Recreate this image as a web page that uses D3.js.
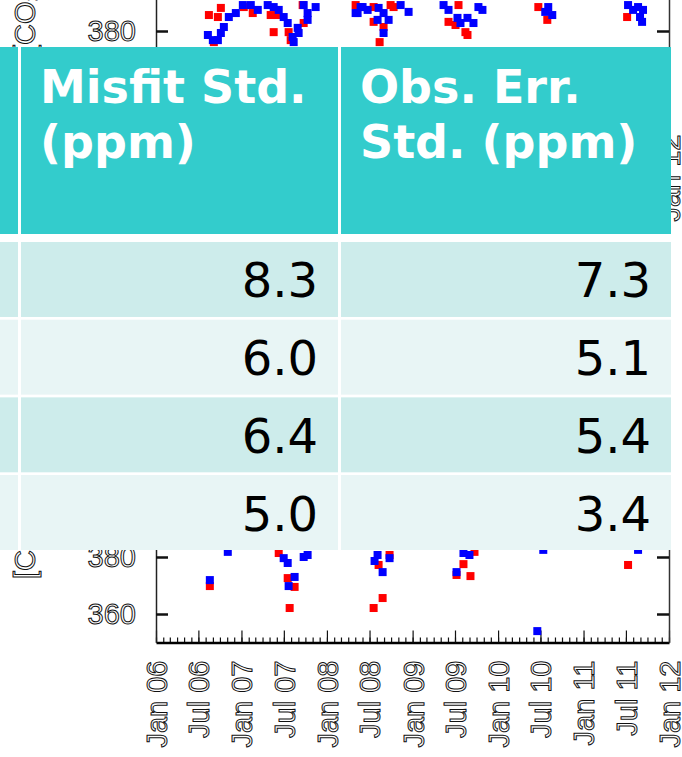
<!DOCTYPE html>
<html>
<head>
<meta charset="utf-8">
<script src="https://cdn.jsdelivr.net/npm/d3@7"></script>
<style>
  body { margin: 0; background: #fff; }
  svg { display: block; }
</style>
</head>
<body>
<svg></svg>
<script>
var width = 682, height = 757;

// table values
var headers = [["Misfit Std.", "(ppm)"], ["Obs. Err.", "Std. (ppm)"]];
var misfitStd = [8.3, 6.0, 6.4, 5.0];
var obsErrStd = [7.3, 5.1, 5.4, 3.4];

// background plot
var xTickLabels = ["Jan 06", "Jul 06", "Jan 07", "Jul 07", "Jan 08", "Jul 08", "Jan 09",
                   "Jul 09", "Jan 10", "Jul 10", "Jan 11", "Jul 11", "Jan 12"];
var yTicks = [360, 380, 400];
var yTitle = "[CO\u2082] (ppm)";

// [decimal year, ppm]
var topRed = [[2006.619, 385.6], [2006.759, 388.1], [2006.724, 384.9], [2006.677, 376.1],
  [2007.027, 388.4], [2007.132, 386.3], [2007.342, 385.6], [2007.424, 385.6], [2007.377, 379.6],
  [2007.552, 379.6], [2007.576, 376.8], [2007.716, 389.1], [2007.728, 382.8], [2008.335, 389.1],
  [2008.545, 388.4], [2008.743, 389.1], [2008.778, 388.4], [2008.545, 383.2], [2008.661, 381.4],
  [2008.615, 376.1], [2009.537, 389.1], [2009.420, 383.2], [2009.502, 382.1], [2009.618, 379.6],
  [2009.642, 378.6], [2010.471, 388.4], [2010.576, 383.9], [2011.510, 384.9]];
var topBlue = [[2006.852, 384.9], [2006.934, 386.3], [2006.794, 381.4], [2006.759, 379.3],
  [2006.607, 378.6], [2006.665, 376.8], [2006.724, 376.8], [2007.016, 389.1], [2007.109, 389.1],
  [2007.191, 387.4], [2007.307, 389.1], [2007.377, 388.4], [2007.436, 387.4], [2007.494, 384.9],
  [2007.541, 382.8], [2007.658, 381.1], [2007.669, 379.3], [2007.599, 377.9], [2007.611, 376.1],
  [2007.728, 389.1], [2007.774, 386.3], [2007.868, 388.4], [2007.774, 383.9], [2008.358, 386.3],
  [2008.416, 388.4], [2008.393, 388.4], [2008.335, 386.3], [2008.475, 387.4], [2008.603, 388.1],
  [2008.860, 389.1], [2008.953, 386.7], [2008.661, 386.3], [2008.591, 383.9], [2008.720, 383.9],
  [2008.661, 379.3], [2009.362, 389.1], [2009.420, 387.4], [2009.525, 384.6], [2009.642, 384.6],
  [2009.560, 382.8], [2009.712, 382.8], [2009.770, 388.4], [2009.817, 387.4], [2010.587, 388.4],
  [2010.552, 386.7], [2010.634, 385.6], [2011.521, 389.1], [2011.638, 388.4], [2011.696, 387.4],
  [2011.580, 387.4], [2011.661, 384.9], [2011.685, 383.2]];
var botRed = [[2006.630, 369.8], [2007.436, 381.4], [2007.541, 372.6], [2007.622, 369.5],
  [2007.564, 362.1], [2008.603, 377.2], [2008.731, 380.7], [2008.650, 365.6], [2008.545, 362.1],
  [2009.724, 381.8], [2009.595, 377.5], [2009.514, 373.7], [2009.677, 373.3], [2011.521, 377.2]];
var botBlue = [[2006.840, 381.8], [2007.494, 379.6], [2007.541, 377.9], [2007.774, 380.7],
  [2007.728, 380.0], [2006.630, 371.9], [2007.622, 373.0], [2007.552, 369.8], [2008.591, 380.7],
  [2008.556, 378.6], [2008.731, 379.6], [2008.650, 374.7], [2009.595, 381.4], [2009.665, 380.7],
  [2009.514, 374.7], [2010.529, 382.5], [2010.459, 354.0], [2011.638, 382.5]];

var svg = d3.select("svg")
    .attr("width", width)
    .attr("height", height);

var parseTick = d3.timeParse("%b %y");

function toDate(t) {
    var yr = Math.floor(t),
        s = new Date(yr, 0, 1),
        e = new Date(yr + 1, 0, 1);
    return new Date(+s + (t - yr) * (e - s));
}

var x = d3.scaleTime()
    .domain([new Date(2006, 0, 1), new Date(2012, 0, 1)])
    .range([156, 669]);

var plotFont = "Liberation Sans, Arial, sans-serif";

// hollow, thin-stroked glyphs like the scanned figure
function outlineText(sel) {
    sel.attr("font-family", plotFont)
        .attr("font-size", 29)
        .attr("fill", "none")
        .attr("stroke", "#111")
        .attr("stroke-width", 1);
}

function drawPanel(shift, red, blue) {
    var y = d3.scaleLinear()
        .domain([350, 420])
        .range([642.5 + shift, 443 + shift]);

    var g = svg.append("g");

    // minor monthly ticks
    g.append("g")
        .attr("transform", "translate(0," + y(350) + ")")
        .call(d3.axisBottom(x).ticks(d3.timeMonth.every(1)).tickSize(-5).tickSizeOuter(0).tickFormat(""))
        .call(function(a) { a.select(".domain").remove(); })
        .selectAll("line").attr("stroke", "#111").attr("stroke-width", 1.2);

    var xa = g.append("g")
        .attr("transform", "translate(0," + y(350) + ")")
        .call(d3.axisBottom(x)
            .tickValues(xTickLabels.map(parseTick))
            .tickSize(-12)
            .tickSizeOuter(0)
            .tickFormat(d3.timeFormat("%b %y")));
    xa.select(".domain").attr("stroke", "#000").attr("stroke-width", 2.5);
    xa.selectAll("line").attr("stroke", "#111").attr("stroke-width", 1.2);
    xa.selectAll("text")
        .attr("transform", "rotate(-90)")
        .attr("text-anchor", "end")
        .attr("x", -18)
        .attr("y", 0)
        .attr("dy", "0.36em")
        .call(outlineText);

    var ya = g.append("g")
        .attr("transform", "translate(156,0)")
        .call(d3.axisLeft(y).tickValues(yTicks).tickSize(-12).tickSizeOuter(0).tickPadding(20));
    ya.select(".domain").attr("stroke", "#222").attr("stroke-width", 1.5);
    ya.selectAll("line").attr("stroke", "#111").attr("stroke-width", 2.5);
    ya.selectAll("text").call(outlineText);

    var ra = g.append("g")
        .attr("transform", "translate(669,0)")
        .call(d3.axisRight(y).tickValues(yTicks).tickSize(-12).tickSizeOuter(0).tickFormat(""));
    ra.select(".domain").attr("stroke", "#333").attr("stroke-width", 1.5);
    ra.selectAll("line").attr("stroke", "#111").attr("stroke-width", 2.5);

    g.append("text")
        .attr("transform", "translate(35," + (y(372.3)) + ") rotate(-90)")
        .attr("text-anchor", "start")
        .call(outlineText)
        .text(yTitle);

    var sz = 8;
    [[red, "#ff0000"], [blue, "#0000ff"]].forEach(function(s) {
        g.append("g").selectAll("rect")
            .data(s[0])
            .enter().append("rect")
            .attr("x", function(d) { return x(toDate(d[0])) - sz / 2; })
            .attr("y", function(d) { return y(d[1]) - sz / 2; })
            .attr("width", sz)
            .attr("height", sz)
            .attr("fill", s[1]);
    });
}

drawPanel(-526, topRed, topBlue);
drawPanel(0, botRed, botBlue);

// table overlay
var cols = [[0, 18], [21, 338], [341, 671]];
var headTop = 47, headBottom = 234;
var rowTop = d3.scaleBand().domain(d3.range(misfitStd.length)).range([242, 550]).paddingInner(0.035);
var rowFill = ["#cdeceb", "#e8f5f5"];

var table = svg.append("g");

table.append("rect")
    .attr("x", 0)
    .attr("y", headTop)
    .attr("width", cols[2][1])
    .attr("height", rowTop(misfitStd.length - 1) + rowTop.bandwidth() - headTop)
    .attr("fill", "#fff");

table.selectAll("rect.head")
    .data(cols)
    .enter().append("rect")
    .attr("class", "head")
    .attr("x", function(c) { return c[0]; })
    .attr("y", headTop)
    .attr("width", function(c) { return c[1] - c[0]; })
    .attr("height", headBottom - headTop)
    .attr("fill", "#33cccc");

headers.forEach(function(lines, i) {
    var c = cols[i + 1];
    table.append("text")
        .attr("x", c[0] + 19)
        .attr("y", 103)
        .attr("font-family", "DejaVu Sans, Verdana, sans-serif")
        .attr("font-weight", "bold")
        .attr("font-size", 46)
        .attr("fill", "#fff")
        .selectAll("tspan")
        .data(lines)
        .enter().append("tspan")
        .attr("x", c[0] + 19)
        .attr("dy", function(d, j) { return j ? 55 : 0; })
        .text(function(d) { return d; });
});

var body = [misfitStd, obsErrStd];
misfitStd.forEach(function(v, r) {
    cols.forEach(function(c) {
        table.append("rect")
            .attr("x", c[0])
            .attr("y", rowTop(r))
            .attr("width", c[1] - c[0])
            .attr("height", rowTop.bandwidth())
            .attr("fill", rowFill[r % 2]);
    });
    body.forEach(function(col, k) {
        var c = cols[k + 1];
        table.append("text")
            .attr("x", c[1] - 20)
            .attr("y", rowTop(r) + rowTop.bandwidth() / 2 + 18)
            .attr("text-anchor", "end")
            .attr("font-family", "DejaVu Sans, Verdana, sans-serif")
            .attr("font-size", 48)
            .attr("fill", "#000")
            .text(d3.format(".1f")(col[r]));
    });
});
</script>
</body>
</html>
